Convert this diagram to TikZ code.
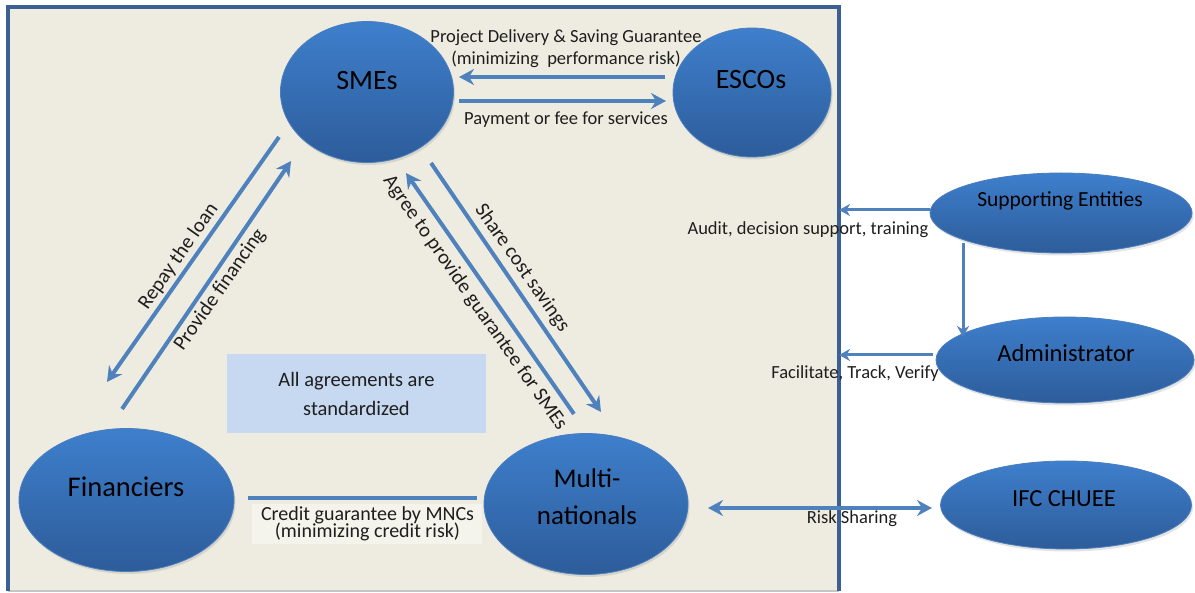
\documentclass[tikz,border=0pt]{standalone}
\usepackage{fontspec}
\setmainfont{Carlito}
\usetikzlibrary{arrows.meta,shapes.geometric,shadows}
\definecolor{panelbg}{HTML}{EEECE1}
\definecolor{panelline}{HTML}{3C5F94}
\definecolor{arrblue}{HTML}{4F81BD}
\definecolor{enttop}{HTML}{3E7FCC}
\definecolor{entbot}{HTML}{2D5C9A}
\definecolor{entedge}{HTML}{4A7EBF}
\definecolor{boxfill}{HTML}{C6D9F1}
\definecolor{lbltext}{HTML}{1E1E1E}
\begin{document}
\begin{tikzpicture}[x=1pt,y=-1pt,
  ent/.style={ellipse, inner sep=0pt, top color=enttop, bottom color=entbot,
    draw=entedge, line width=0.8pt,
    drop shadow={opacity=0.22, shadow xshift=1.5pt, shadow yshift=-2.5pt}},
  ttl/.style={anchor=base, inner sep=0pt, text=black},
  lbl/.style={anchor=base, inner sep=0pt, text=lbltext, font=\fontsize{18.5}{22}\selectfont},
  rlbl/.style={inner sep=0pt, text=lbltext, font=\fontsize{20.5}{24}\selectfont},
  arr/.style={draw=arrblue, line width=4pt, -{Stealth[length=15pt,width=16pt,inset=5pt]}},
  sarr/.style={draw=arrblue, line width=3pt, -{Stealth[length=11pt,width=12pt,inset=3.5pt]}},
  plainline/.style={draw=arrblue, line width=4.5pt}
]
\useasboundingbox (0,0) rectangle (1195,593);
\fill[white] (0,0) rectangle (1195,593);
% panel
\fill[panelbg] (8,7) rectangle (839,591);
\draw[gray!45, line width=1.5pt] (8,591) -- (839,591);
\draw[panelline, line width=3.5pt] (8,591) -- (8,7) -- (839,7) -- (839,591);

% entities
\node[ent, minimum width=173pt, minimum height=141pt] (sme) at (367,92) {};
\node[ent, minimum width=158pt, minimum height=129pt] (esc) at (752,92.5) {};
\node[ent, minimum width=215pt, minimum height=143pt] (fin) at (126.5,500) {};
\node[ent, minimum width=204pt, minimum height=141pt] (mnc) at (586,504) {};
\node[ent, minimum width=262pt, minimum height=80pt] (sup) at (1061,213) {};
\node[ent, minimum width=258pt, minimum height=86pt] (adm) at (1065,360) {};
\node[ent, minimum width=251pt, minimum height=88pt] (ifc) at (1066,505) {};

\node[ttl, font=\fontsize{28}{34}\selectfont] (smeT) at (367,90) {SMEs};
\node[ttl, font=\fontsize{28}{34}\selectfont] (escT) at (751,89) {ESCOs};
\node[ttl, font=\fontsize{28.5}{34}\selectfont] (finT) at (126,497) {Financiers};
\node[ttl, font=\fontsize{27}{34}\selectfont] (mncT1) at (587,488) {Multi-};
\node[ttl, font=\fontsize{27}{34}\selectfont] (mncT2) at (587,525) {nationals};
\node[ttl, font=\fontsize{21.5}{26}\selectfont] (supT) at (1060,207) {Supporting Entities};
\node[ttl, font=\fontsize{24.5}{30}\selectfont] (admT) at (1066,362) {Administrator};
\node[ttl, font=\fontsize{24.5}{30}\selectfont] (ifcT) at (1064,507) {IFC CHUEE};

% agreement box
\node[fill=boxfill, minimum width=259pt, minimum height=79pt, inner sep=0pt,
      align=center, font=\fontsize{20.5}{29}\selectfont, text=lbltext] (box) at (356.5,393.5)
      {All agreements are\\standardized};

% SMEs <-> ESCOs
\coordinate (pdA) at (665,77);
\coordinate (pdB) at (459,77);
\coordinate (pyA) at (459,101);
\coordinate (pyB) at (666,101);
\draw[arr] (pdA) -- (pdB);
\draw[arr] (pyA) -- (pyB);
\node[lbl] (pdL1) at (566,43) {Project Delivery \& Saving Guarantee};
\node[lbl] (pdL2) at (566,65) {(minimizing~ performance risk)};
\node[lbl] (pyL) at (566,125) {Payment or fee for services};

% SMEs <-> Financiers
\coordinate (rpA) at (279,137);
\coordinate (rpB) at (107,382);
\coordinate (pfA) at (122,409);
\coordinate (pfB) at (291,161);
\draw[arr] (rpA) -- (rpB);
\draw[arr] (pfA) -- (pfB);
\node[rlbl, rotate=55] (rpL) at (178.5,256.5) {Repay the loan};
\node[rlbl, rotate=55] (pfL) at (220,290) {Provide financing};

% SMEs <-> Multinationals
\coordinate (agA) at (574,414);
\coordinate (agB) at (406,173);
\coordinate (scA) at (431,163);
\coordinate (scB) at (601,412);
\draw[arr] (agA) -- (agB);
\draw[arr] (scA) -- (scB);
\node[rlbl, rotate=-55] (agL) at (475,303) {Agree to provide guarantee for SMEs};
\node[rlbl, rotate=-55] (scL) at (522,268) {Share cost savings};

% Financiers -- Multinationals
\coordinate (crA) at (248,498);
\coordinate (crB) at (477,498);
\draw[plainline] (crA) -- (crB);
\fill[white!35!panelbg] (252,504) rectangle (482,544);
\node[lbl, font=\fontsize{20}{22}\selectfont] (crL1) at (367.5,520.5) {Credit guarantee by MNCs};
\node[lbl, font=\fontsize{20}{22}\selectfont] (crL2) at (367.5,538) {(minimizing credit risk)};

% Risk sharing
\coordinate (rsA) at (708,508);
\coordinate (rsB) at (932,508);
\draw[draw=arrblue, line width=4pt, {Stealth[length=15pt,width=16pt,inset=5pt]}-{Stealth[length=15pt,width=16pt,inset=5pt]}] (rsA) -- (rsB);
\node[lbl] (rsL) at (852,524) {Risk Sharing};

% right side
\coordinate (auB) at (839,210);
\draw[sarr] (sup.west |- auB) -- (auB);
\node[lbl] (auL) at (808,235) {Audit, decision support, training};
\coordinate (vA) at (963,243);
\coordinate (vB) at (963,337);
\draw[sarr] (vA) -- (vB);
\coordinate (faA) at (933,355);
\coordinate (faB) at (839,355);
\draw[sarr] (faA) -- (faB);
\node[lbl] (faL) at (855,379) {Facilitate, Track, Verify};
\end{tikzpicture}
\end{document}
